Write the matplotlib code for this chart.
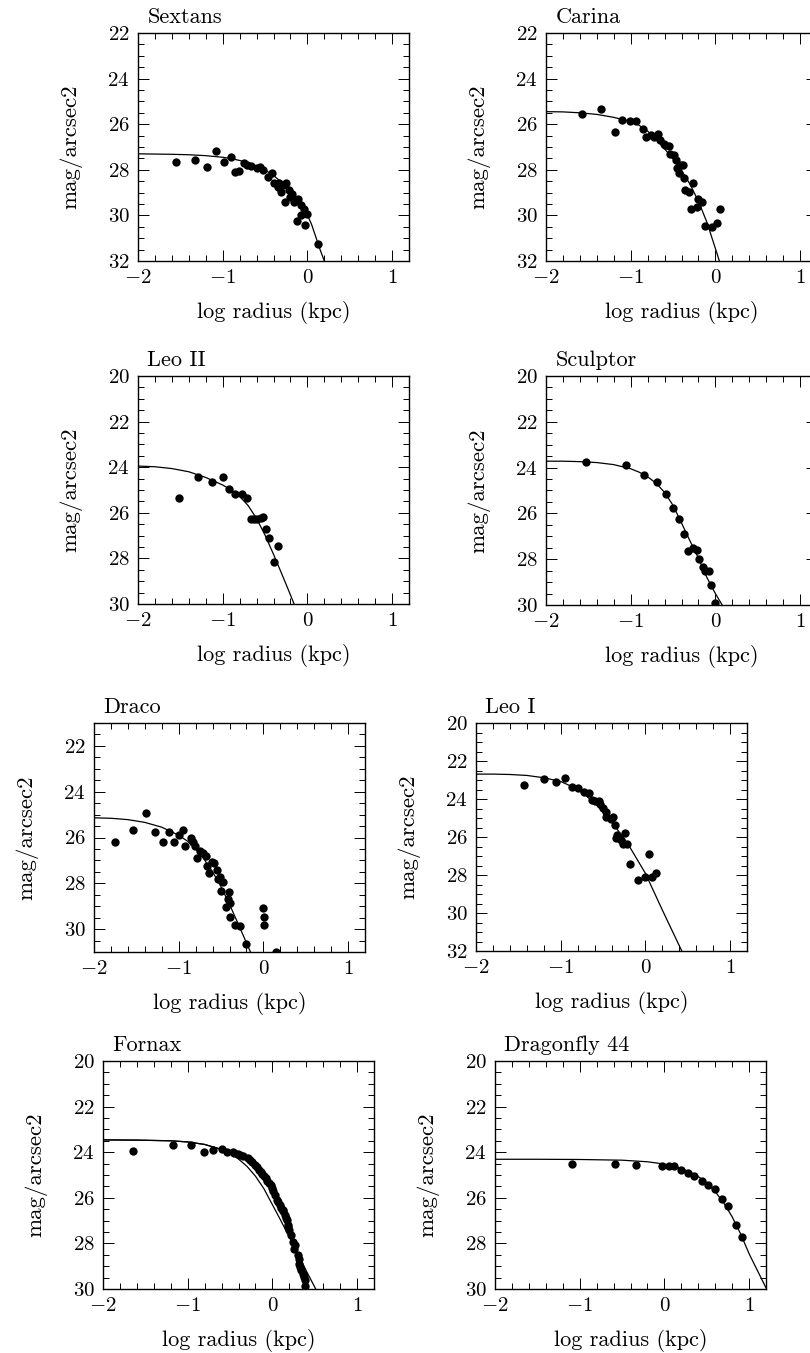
"""
Surface brightness profiles of dwarf galaxies and Dragonfly 44
"""
import matplotlib.pyplot as plt
import matplotlib as mpl
from matplotlib.ticker import MultipleLocator

mpl.rcParams['font.family'] = ['cmr10', 'DejaVu Serif']
mpl.rcParams['mathtext.fontset'] = 'cm'
mpl.rcParams['axes.formatter.use_mathtext'] = True

# data points: log radius (kpc), mag/arcsec2
sextans_x = [-1.55, -1.33, -1.18, -1.08, -0.99, -0.90, -0.86, -0.81, -0.75, -0.71, -0.67, -0.59,
             -0.56, -0.52, -0.47, -0.42, -0.39, -0.35, -0.33, -0.31, -0.29, -0.26, -0.25, -0.22,
             -0.20, -0.18, -0.16, -0.11, -0.08, -0.12, -0.08, -0.04, -0.01, -0.03, 0.12]
sextans_y = [27.67, 27.57, 27.87, 27.16, 27.65, 27.45, 28.08, 28.04, 27.72, 27.79, 27.82, 27.94,
             27.87, 28.01, 28.30, 28.16, 28.57, 28.74, 28.57, 28.96, 28.68, 29.40, 28.60, 28.89,
             29.18, 29.04, 29.40, 29.26, 29.55, 30.24, 29.99, 29.70, 29.95, 30.43, 31.27]
sextans_fit_x = [-2.0, -1.8, -1.6, -1.4, -1.2, -1.0, -0.9, -0.8, -0.7, -0.6, -0.5, -0.4, -0.3,
                 -0.2, -0.1, 0.0, 0.05, 0.1, 0.15, 0.2]
sextans_fit_y = [27.30, 27.31, 27.32, 27.34, 27.38, 27.45, 27.51, 27.59, 27.69, 27.83, 28.01,
                 28.25, 28.56, 28.95, 29.42, 29.98, 30.40, 30.95, 31.50, 32.0]

carina_x = [-1.57, -1.35, -1.19, -1.10, -1.01, -0.94, -0.86, -0.82, -0.76, -0.72, -0.68, -0.65,
            -0.61, -0.59, -0.55, -0.53, -0.49, -0.47, -0.45, -0.43, -0.41, -0.38, -0.37, -0.36,
            -0.31, -0.26, -0.29, -0.22, -0.20, -0.16, -0.12, -0.04, 0.02, 0.05]
carina_y = [25.56, 25.34, 26.34, 25.81, 25.84, 25.84, 26.22, 26.55, 26.47, 26.57, 26.43, 26.69,
            26.87, 26.93, 26.96, 27.31, 27.35, 27.57, 27.94, 28.16, 27.79, 27.79, 28.38, 28.89,
            28.96, 28.60, 29.73, 29.65, 29.30, 29.40, 30.48, 30.53, 30.33, 29.74]
carina_fit_x = [-2.0, -1.8, -1.6, -1.4, -1.2, -1.0, -0.9, -0.8, -0.7, -0.6, -0.5, -0.4, -0.3,
                -0.2, -0.1, 0.0, 0.047]
carina_fit_y = [25.45, 25.46, 25.50, 25.57, 25.70, 25.88, 26.05, 26.30, 26.66, 27.08, 27.52,
                28.03, 28.63, 29.38, 30.30, 31.45, 32.0]

leo2_x = [-1.52, -1.29, -1.13, -1.00, -0.92, -0.86, -0.77, -0.71, -0.67, -0.63, -0.59, -0.55,
          -0.52, -0.49, -0.45, -0.35, -0.40]
leo2_y = [25.35, 24.43, 24.63, 24.43, 24.94, 25.19, 25.19, 25.35, 26.27, 26.29, 26.26, 26.21,
          26.17, 26.73, 27.12, 27.44, 28.17]
leo2_fit_x = [-2.0, -1.8, -1.6, -1.4, -1.2, -1.0, -0.9, -0.8, -0.7, -0.6, -0.5, -0.4, -0.3,
              -0.2, -0.157]
leo2_fit_y = [23.95, 23.98, 24.06, 24.20, 24.45, 24.78, 25.00, 25.28, 25.68, 26.25, 26.98, 27.82,
              28.70, 29.60, 30.0]

sculptor_x = [-1.53, -1.06, -0.84, -0.69, -0.58, -0.50, -0.43, -0.37, -0.32, -0.27, -0.22, -0.19,
              -0.15, -0.12, -0.08, -0.05, 0.00]
sculptor_y = [23.75, 23.87, 24.31, 24.63, 25.14, 25.77, 26.25, 26.89, 27.66, 27.52, 27.62, 27.99,
              28.32, 28.50, 28.53, 29.12, 29.90]
sculptor_fit_x = [-2.0, -1.8, -1.6, -1.4, -1.2, -1.0, -0.9, -0.8, -0.7, -0.6, -0.5, -0.4, -0.3,
                  -0.2, -0.1, 0.0, 0.08]
sculptor_fit_y = [23.72, 23.72, 23.74, 23.78, 23.87, 24.05, 24.20, 24.40, 24.68, 25.08, 25.65,
                  26.42, 27.20, 27.95, 28.80, 29.50, 30.0]

draco_x = [-1.75, -1.54, -1.39, -1.28, -1.18, -1.12, -1.05, -1.00, -0.95, -0.92, -0.85, -0.83,
           -0.81, -0.78, -0.75, -0.71, -0.68, -0.66, -0.64, -0.61, -0.58, -0.55, -0.53, -0.51,
           -0.50, -0.48, -0.44, -0.42, -0.41, -0.39, -0.39, -0.33, -0.28, -0.20, 0.00, 0.01,
           0.01, 0.15]
draco_y = [26.18, 25.69, 24.93, 25.77, 26.20, 25.78, 26.20, 25.91, 25.69, 26.38, 26.01, 26.20,
           26.38, 26.91, 26.60, 26.69, 26.82, 27.23, 27.55, 27.05, 27.12, 27.40, 27.81, 27.74,
           28.35, 27.96, 29.05, 28.69, 28.39, 28.88, 29.46, 29.81, 29.85, 30.63, 29.09, 29.49,
           29.82, 30.98]
draco_fit_x = [-2.0, -1.8, -1.6, -1.4, -1.2, -1.0, -0.9, -0.8, -0.7, -0.6, -0.5, -0.4, -0.3,
               -0.2, -0.15]
draco_fit_y = [25.14, 25.16, 25.22, 25.34, 25.55, 25.90, 26.15, 26.50, 26.95, 27.50, 28.15,
               28.92, 29.75, 30.60, 31.02]

leo1_x = [-1.43, -1.20, -1.05, -0.95, -0.87, -0.79, -0.73, -0.67, -0.63, -0.59, -0.55, -0.53,
          -0.50, -0.47, -0.46, -0.41, -0.38, -0.36, -0.34, -0.35, -0.32, -0.29, -0.26, -0.24,
          -0.22, -0.18, -0.09, 0.00, 0.04, 0.08, 0.12]
leo1_y = [23.25, 22.95, 23.11, 22.90, 23.39, 23.43, 23.64, 23.69, 24.04, 24.08, 24.13, 24.25,
          24.48, 24.71, 24.96, 25.06, 24.96, 25.36, 25.89, 26.06, 25.98, 26.15, 26.38, 25.80,
          26.36, 27.43, 28.26, 28.08, 26.89, 28.12, 27.91]
leo1_fit_x = [-2.0, -1.8, -1.6, -1.4, -1.2, -1.0, -0.8, -0.6, -0.4, -0.2, 0.0, 0.2, 0.43]
leo1_fit_y = [22.69, 22.69, 22.71, 22.76, 22.88, 23.08, 23.48, 24.20, 25.18, 26.41, 27.91, 29.84,
              32.0]

fornax_x = [-1.65, -1.17, -0.96, -0.81, -0.70, -0.60, -0.54, -0.47, -0.45, -0.41, -0.38, -0.35,
            -0.29, -0.27, -0.24, -0.20, -0.18, -0.16, -0.14, -0.12, -0.10, -0.08, -0.06, -0.04,
            -0.02, 0.00, 0.01, 0.03, 0.05, 0.07, 0.09, 0.10, 0.12, 0.13, 0.15, 0.16, 0.17, 0.18,
            0.19, 0.20, 0.22, 0.24, 0.26, 0.27, 0.30, 0.31, 0.32, 0.33, 0.34, 0.36, 0.37, 0.38,
            0.39]
fornax_y = [23.93, 23.68, 23.68, 23.98, 23.90, 23.87, 24.00, 24.00, 24.05, 24.08, 24.12, 24.17,
            24.27, 24.35, 24.42, 24.56, 24.65, 24.78, 24.85, 24.96, 25.05, 25.15, 25.25, 25.37,
            25.45, 25.59, 25.70, 25.88, 26.10, 26.20, 26.32, 26.45, 26.54, 26.60, 26.76, 26.90,
            26.98, 27.20, 27.30, 27.42, 27.64, 27.95, 28.23, 28.05, 28.52, 28.70, 28.89, 29.05,
            29.18, 29.35, 29.48, 29.60, 29.89]
fornax_fit_x = [-2.0, -1.6, -1.2, -1.0, -0.8, -0.6, -0.5, -0.4, -0.3, -0.2, -0.1, 0.0, 0.1, 0.2,
                0.3, 0.4, 0.52]
fornax_fit_y = [23.46, 23.47, 23.50, 23.55, 23.66, 23.88, 24.05, 24.30, 24.62, 25.05, 25.60,
                26.30, 27.00, 27.72, 28.45, 29.20, 30.06]
fornax_fit2_x = [-2.0, -1.6, -1.2, -1.0, -0.8, -0.6, -0.5, -0.4, -0.3, -0.2, -0.1, 0.0, 0.1,
                 0.2, 0.3, 0.4, 0.42]
fornax_fit2_y = [23.46, 23.47, 23.50, 23.55, 23.66, 23.88, 24.00, 24.15, 24.35, 24.62, 25.00,
                 25.55, 26.30, 27.30, 28.50, 29.80, 30.0]

df44_x = [-1.09, -0.58, -0.34, -0.03, 0.05, 0.11, 0.20, 0.28, 0.35, 0.44, 0.52, 0.60, 0.68,
          0.75, 0.84, 0.92]
df44_y = [24.52, 24.52, 24.55, 24.59, 24.59, 24.59, 24.78, 24.93, 25.03, 25.25, 25.44, 25.63,
          26.07, 26.36, 27.20, 27.71]
df44_fit_x = [-2.0, -1.5, -1.0, -0.5, -0.2, 0.0, 0.1, 0.2, 0.3, 0.4, 0.5, 0.6, 0.7, 0.8, 0.9,
              1.0, 1.1, 1.2]
df44_fit_y = [24.31, 24.31, 24.32, 24.35, 24.42, 24.52, 24.60, 24.71, 24.86, 25.07, 25.35, 25.73,
              26.22, 26.83, 27.58, 28.45, 29.20, 29.95]

names = ['Sextans', 'Carina', 'Leo II', 'Sculptor', 'Draco', 'Leo I', 'Fornax', 'Dragonfly 44']
points = [(sextans_x, sextans_y), (carina_x, carina_y), (leo2_x, leo2_y),
          (sculptor_x, sculptor_y), (draco_x, draco_y), (leo1_x, leo1_y),
          (fornax_x, fornax_y), (df44_x, df44_y)]
fits = [[(sextans_fit_x, sextans_fit_y)], [(carina_fit_x, carina_fit_y)],
        [(leo2_fit_x, leo2_fit_y)], [(sculptor_fit_x, sculptor_fit_y)],
        [(draco_fit_x, draco_fit_y)], [(leo1_fit_x, leo1_fit_y)],
        [(fornax_fit_x, fornax_fit_y), (fornax_fit2_x, fornax_fit2_y)],
        [(df44_fit_x, df44_fit_y)]]
ylims = [(32, 22), (32, 22), (30, 20), (30, 20), (31, 21), (32, 20), (30, 20), (30, 20)]

# axes boxes in pixels: left, top, right, bottom
W, H = 810, 1353
boxes = [(138, 33, 409, 261), (546, 33, 817, 261),
         (138, 376, 409, 604), (546, 376, 817, 605),
         (94, 723, 365, 952), (476, 723, 747, 951),
         (103, 1061, 374, 1289), (495, 1061, 766, 1289)]

fig = plt.figure(figsize=(W / 100, H / 100), dpi=100)
for ind in range(8):
    l, t, r, b = boxes[ind]
    ax = fig.add_axes([l / W, 1 - b / H, (r - l) / W, (b - t) / H])
    for fx, fy in fits[ind]:
        ax.plot(fx, fy, color='black', lw=0.9)
    ax.plot(points[ind][0], points[ind][1], 'o', color='black', ms=6, mew=0)
    ax.set_xlim(-2, 1.2)
    ax.set_ylim(*ylims[ind])
    ax.xaxis.set_major_locator(MultipleLocator(1))
    ax.xaxis.set_minor_locator(MultipleLocator(0.2))
    ax.yaxis.set_major_locator(MultipleLocator(2))
    ax.yaxis.set_minor_locator(MultipleLocator(0.5))
    ax.tick_params(which='both', direction='in', top=True, right=True, width=0.7, labelsize=15)
    ax.tick_params(which='major', length=8, pad=6)
    ax.tick_params(which='minor', length=4)
    for sp in ax.spines.values():
        sp.set_linewidth(1.0)
    ax.set_xlabel('log radius (kpc)', fontsize=16, labelpad=10)
    ax.set_ylabel('mag/arcsec2', fontsize=16.5, labelpad=18)
    ax.text(0.035, 1.045, names[ind], transform=ax.transAxes, fontsize=16, va='baseline')

plt.savefig('out.png', dpi=100)
